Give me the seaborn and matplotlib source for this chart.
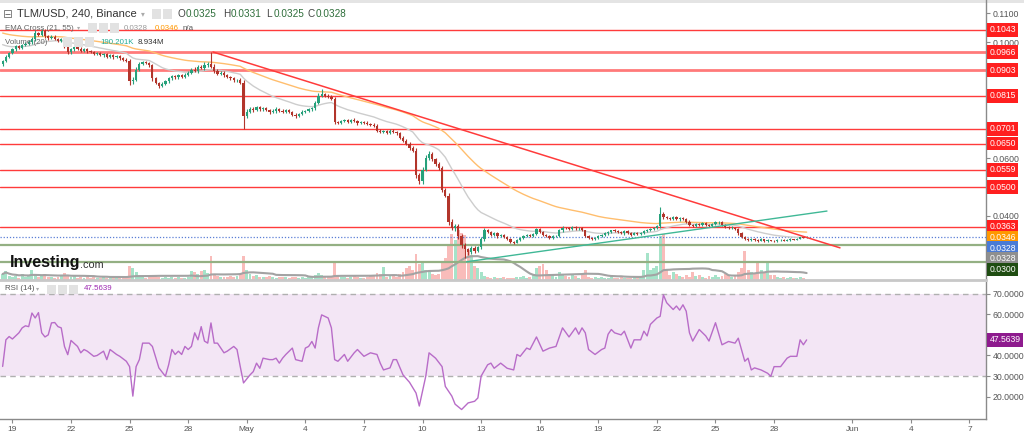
import numpy as np
import pandas as pd
import matplotlib
matplotlib.use("Agg")
import matplotlib.pyplot as plt
import matplotlib.dates as mdates
import matplotlib.transforms as mtrans
from matplotlib.patches import Rectangle
import seaborn as sns

# ---------------- data ----------------
first_time = "2021-04-18 12:00"
bar_hours = 4
first_open = 0.0925

close_rows = [
    [0.0935, 0.0950, 0.0962],                                   # Apr 18
    [0.0975, 0.0985, 0.0980, 0.0990, 0.0995, 0.1000],           # Apr 19
    [0.1010, 0.1030, 0.1025, 0.1038, 0.1020, 0.1015],
    [0.1018, 0.1012, 0.1005, 0.1010, 0.0985, 0.0965],
    [0.0975, 0.0982, 0.0978, 0.0970, 0.0975, 0.0968],
    [0.0965, 0.0960, 0.0962, 0.0955, 0.0958, 0.0950],
    [0.0955, 0.0948, 0.0952, 0.0945, 0.0940, 0.0935],
    [0.0865, 0.0870, 0.0905, 0.0925, 0.0930, 0.0928],           # Apr 25
    [0.0920, 0.0875, 0.0860, 0.0850, 0.0855, 0.0865],
    [0.0875, 0.0882, 0.0878, 0.0885, 0.0880, 0.0888],
    [0.0895, 0.0905, 0.0900, 0.0915, 0.0910, 0.0920],
    [0.0925, 0.0915, 0.0900, 0.0890, 0.0895, 0.0885],
    [0.0880, 0.0875, 0.0868, 0.0870, 0.0860, 0.0745],           # Apr 30
    [0.0760, 0.0770, 0.0765, 0.0775, 0.0768, 0.0772],           # May 1
    [0.0765, 0.0758, 0.0762, 0.0770, 0.0764, 0.0760],
    [0.0765, 0.0758, 0.0750, 0.0745, 0.0752, 0.0760],
    [0.0763, 0.0768, 0.0772, 0.0790, 0.0815, 0.0820],
    [0.0815, 0.0812, 0.0805, 0.0725, 0.0722, 0.0728],           # May 5
    [0.0730, 0.0725, 0.0732, 0.0728, 0.0720, 0.0724],
    [0.0722, 0.0718, 0.0715, 0.0712, 0.0695, 0.0690],
    [0.0692, 0.0688, 0.0695, 0.0690, 0.0685, 0.0670],
    [0.0660, 0.0650, 0.0635, 0.0625, 0.0540, 0.0520],
    [0.0560, 0.0600, 0.0615, 0.0595, 0.0580, 0.0565],           # May 10
    [0.0490, 0.0470, 0.0380, 0.0360, 0.0365, 0.0330],
    [0.0300, 0.0285, 0.0275, 0.0290, 0.0280, 0.0292],
    [0.0320, 0.0350, 0.0345, 0.0335, 0.0340, 0.0330],
    [0.0335, 0.0328, 0.0322, 0.0310, 0.0308, 0.0318],
    [0.0325, 0.0330, 0.0335, 0.0332, 0.0338, 0.0355],           # May 15
    [0.0345, 0.0335, 0.0330, 0.0325, 0.0330, 0.0332],
    [0.0350, 0.0360, 0.0358, 0.0355, 0.0362, 0.0357],
    [0.0358, 0.0350, 0.0330, 0.0325, 0.0320, 0.0325],
    [0.0330, 0.0335, 0.0340, 0.0345, 0.0350, 0.0348],
    [0.0345, 0.0340, 0.0348, 0.0342, 0.0336, 0.0340],           # May 20
    [0.0338, 0.0342, 0.0348, 0.0352, 0.0355, 0.0358],
    [0.0365, 0.0408, 0.0395, 0.0392, 0.0390, 0.0395],
    [0.0388, 0.0392, 0.0390, 0.0380, 0.0370, 0.0365],
    [0.0372, 0.0368, 0.0375, 0.0370, 0.0365, 0.0372],
    [0.0378, 0.0380, 0.0370, 0.0362, 0.0358, 0.0360],           # May 25
    [0.0355, 0.0340, 0.0328, 0.0320, 0.0318, 0.0322],
    [0.0318, 0.0315, 0.0320, 0.0312, 0.0316, 0.0314],
    [0.0312, 0.0316, 0.0318, 0.0315, 0.0317, 0.0320],
    [0.0318, 0.0322, 0.0326, 0.0325, 0.0328],                   # May 29
]

# upper / lower wick lengths, in units of 0.0001
wick_up_rows = [
    [5, 6, 4],
    [5, 4, 6, 4, 5, 6], [8, 12, 6, 7, 8, 5], [6, 5, 4, 6, 5, 4], [6, 5, 4, 5, 4, 5],
    [4, 5, 4, 5, 4, 4], [5, 4, 5, 4, 4, 5], [6, 8, 10, 6, 5, 6], [4, 6, 5, 4, 6, 5],
    [5, 4, 6, 4, 5, 6], [6, 5, 8, 6, 7, 10], [8, 41, 8, 6, 5, 4], [5, 4, 6, 4, 5, 8],
    [8, 6, 5, 6, 5, 4], [5, 4, 6, 5, 4, 5], [4, 5, 4, 5, 4, 5], [4, 5, 4, 6, 10, 18],
    [6, 5, 6, 5, 4, 5], [4, 5, 4, 5, 4, 4], [4, 5, 4, 5, 4, 5], [5, 4, 5, 4, 5, 4],
    [5, 6, 5, 6, 8, 10], [8, 12, 10, 6, 5, 6], [8, 6, 10, 8, 6, 8], [8, 6, 5, 6, 5, 6],
    [8, 8, 5, 4, 5, 4], [4, 3, 4, 3, 4, 3], [3, 4, 3, 4, 3, 4], [4, 3, 4, 3, 3, 4],
    [4, 5, 3, 4, 3, 4], [3, 4, 3, 3, 4, 3], [3, 4, 3, 4, 3, 4], [4, 3, 4, 3, 3, 4],
    [3, 4, 3, 4, 3, 4], [5, 23, 6, 4, 5, 4], [4, 5, 4, 4, 5, 3], [3, 4, 3, 4, 3, 4],
    [4, 3, 4, 3, 3, 4], [3, 4, 3, 3, 4, 3], [3, 2, 3, 2, 3, 2], [2, 3, 2, 3, 2, 3],
    [2, 3, 2, 3, 3],
]
wick_dn_rows = [
    [8, 5, 4],
    [4, 5, 4, 5, 4, 5], [5, 6, 5, 4, 5, 6], [4, 5, 6, 4, 6, 5], [5, 4, 5, 4, 5, 4],
    [4, 5, 4, 4, 5, 4], [4, 5, 4, 5, 4, 5], [12, 8, 5, 4, 5, 4], [5, 8, 6, 8, 5, 4],
    [5, 4, 5, 4, 5, 4], [4, 5, 4, 5, 4, 5], [5, 4, 6, 5, 4, 5], [4, 5, 4, 5, 4, 45],
    [6, 5, 6, 4, 5, 4], [4, 5, 4, 5, 4, 5], [5, 4, 5, 6, 4, 5], [4, 5, 4, 5, 4, 5],
    [5, 4, 6, 8, 5, 4], [5, 4, 5, 4, 6, 4], [4, 5, 4, 5, 6, 5], [5, 4, 5, 4, 5, 6],
    [6, 5, 6, 5, 8, 10], [8, 5, 6, 5, 6, 5], [8, 6, 10, 8, 12, 10], [10, 30, 8, 6, 8, 5],
    [6, 5, 4, 5, 4, 5], [4, 5, 4, 5, 4, 3], [4, 3, 4, 3, 4, 3], [4, 4, 3, 4, 3, 3],
    [3, 4, 3, 4, 3, 4], [4, 3, 4, 5, 4, 3], [3, 4, 3, 4, 3, 4], [4, 3, 4, 3, 4, 3],
    [3, 4, 3, 4, 3, 4], [4, 5, 4, 3, 4, 3], [3, 4, 3, 4, 5, 4], [4, 3, 4, 3, 4, 3],
    [3, 4, 3, 4, 3, 4], [3, 4, 5, 4, 6, 3], [3, 4, 3, 2, 3, 2], [2, 3, 2, 3, 2, 2],
    [2, 2, 3, 2, 0],
]

# volume, millions
volume_rows = [
    [12, 18, 8],
    [6, 8, 4, 12, 6, 8], [20, 10, 6, 8, 12, 6], [6, 4, 6, 10, 14, 10], [6, 8, 4, 6, 4, 6],
    [4, 6, 4, 4, 6, 4], [4, 4, 6, 4, 6, 8], [28, 24, 16, 8, 6, 4], [6, 10, 8, 6, 4, 6],
    [4, 6, 4, 6, 4, 4], [6, 18, 16, 12, 18, 20], [14, 48, 12, 8, 6, 6], [6, 8, 6, 8, 12, 48],
    [20, 12, 8, 10, 6, 6], [6, 8, 6, 4, 6, 6], [6, 4, 6, 6, 4, 6], [4, 6, 6, 10, 14, 10],
    [8, 6, 8, 34, 10, 6], [6, 4, 6, 8, 6, 4], [4, 6, 8, 10, 14, 12], [26, 6, 8, 10, 6, 12],
    [16, 24, 28, 20, 52, 32], [34, 20, 16, 12, 10, 12], [36, 44, 68, 92, 80, 100],
    [94, 90, 60, 50, 28, 24], [16, 8, 6, 4, 6, 4], [4, 6, 4, 4, 4, 6], [6, 8, 4, 6, 10, 24],
    [28, 32, 20, 12, 8, 6], [16, 10, 8, 6, 10, 8], [4, 12, 20, 6, 4, 6], [4, 6, 4, 4, 6, 4],
    [4, 6, 4, 4, 4, 6], [6, 8, 20, 54, 20, 24], [28, 88, 92, 20, 10, 16], [12, 8, 6, 10, 6, 16],
    [8, 10, 6, 4, 8, 6], [10, 6, 8, 12, 10, 6], [8, 16, 24, 58, 20, 16], [12, 38, 20, 16, 34, 10],
    [10, 6, 4, 6, 4, 6], [4, 4, 6, 4, 0.19],
]

# RSI(14): (bar index, value)
rsi_points = [
    (0, 34.7), (1, 47.6), (2, 49.2), (3, 48), (5, 51), (6, 53.4), (7, 54.4), (8, 54), (9, 60.6),
    (10, 58.2), (11, 60.8), (12, 51), (13, 49), (14, 50), (15, 55.8), (16, 56), (17, 54),
    (18, 53.4), (19, 44.4), (20, 40.4), (21, 47.3), (23, 44.4), (24, 41.3), (25, 42.9),
    (26, 42.1), (28, 39.6), (29, 40), (31, 42.1), (32, 38), (33, 42.9), (35, 40.5), (36, 39.6),
    (38, 37.2), (39, 34.6), (40, 20.3), (41, 34.6), (42, 38), (43, 46), (45, 46), (46, 44.4),
    (48, 34), (50, 29.9), (51, 35.5), (52, 42.9), (53, 40.5), (54, 42.1), (55, 40.5),
    (56, 44.4), (57, 42.9), (58, 44.4), (59, 51), (60, 47.6), (61, 54), (62, 47), (63, 46),
    (64, 55.8), (65, 46), (66, 46), (68, 41.3), (69, 42.1), (71, 44.4), (72, 42.9), (73, 34.6),
    (74, 26.7), (76, 30.6), (77, 32.2), (78, 36.3), (79, 33.8), (80, 38.7), (82, 38), (83, 38),
    (84, 38.7), (85, 36.3), (86, 38.7), (87, 40.5), (89, 43.6), (90, 38), (92, 37.2),
    (93, 43.6), (94, 44.4), (95, 46.8), (96, 43.6), (97, 53.4), (98, 59.7), (100, 58.2),
    (101, 53.4), (102, 38), (103, 37.2), (105, 40.5), (106, 37.2), (108, 41.3), (109, 42.9),
    (111, 39.6), (113, 41.3), (115, 40.5), (116, 36.3), (117, 33), (119, 34), (120, 38),
    (121, 38), (123, 30.6), (125, 27), (127, 21.8), (128, 15.5), (130, 30), (131, 41.3),
    (133, 38.7), (135, 34.6), (136, 25), (138, 20.3), (139, 16.4), (141, 13.8), (143, 17),
    (145, 17.8), (146, 19.4), (147, 30), (149, 35.5), (150, 36.3), (151, 33.8), (153, 36.3),
    (155, 33.8), (157, 33), (158, 40.5), (159, 39.6), (161, 43.6), (162, 42.9), (164, 49),
    (166, 42.1), (168, 43.6), (170, 44.4), (172, 53.4), (174, 49), (176, 53.4), (177, 50.3),
    (178, 53.4), (179, 51), (180, 42.9), (182, 40.5), (184, 42.9), (185, 43.6), (186, 50.3),
    (187, 52.6), (188, 51), (190, 50), (191, 51.8), (193, 43.6), (194, 47.6), (196, 47.6),
    (197, 51.8), (198, 49.5), (199, 55.1), (201, 58.2), (202, 59), (203, 69.4), (204, 65.6),
    (206, 62.3), (207, 64), (208, 62), (209, 64.6), (210, 61.5), (211, 51), (212, 47),
    (214, 52.6), (216, 49.5), (217, 47), (219, 55.9), (221, 45.2), (223, 46.8), (225, 46),
    (226, 48.4), (228, 37.2), (229, 38.7), (230, 33), (231, 34), (233, 33), (235, 31.4),
    (236, 29.9), (237, 34.6), (239, 34.6), (241, 38.7), (242, 39.6), (244, 39.6), (245, 47.6),
    (246, 45.2), (247, 47.5639),
]

ema21_seed = 0.0997
ema55_seed = 0.1035

red_levels = [0.1043, 0.0966, 0.0903, 0.0815, 0.0701, 0.0650, 0.0559, 0.0500, 0.0363]
thick_red_levels = [0.0966, 0.0903]
green_levels = [0.0300, 0.0242]
last_close = 0.0328
ema21_last = 0.0328
ema55_last = 0.0346
rsi_last = 47.5639

down_trend_t = ["2021-04-29 06:30", "2021-05-31 09:00"]
down_trend_p = [0.0966, 0.0290]
up_trend_t = ["2021-05-12 06:15", "2021-05-30 17:00"]
up_trend_p = [0.0242, 0.0417]

price_ticks = [0.04, 0.06, 0.10, 0.11]
rsi_ticks = [20, 30, 40, 60, 70]
x_tick_dates = ["2021-04-19", "2021-04-22", "2021-04-25", "2021-04-28", "2021-05-01",
                "2021-05-04", "2021-05-07", "2021-05-10", "2021-05-13", "2021-05-16",
                "2021-05-19", "2021-05-22", "2021-05-25", "2021-05-28", "2021-06-01",
                "2021-06-04", "2021-06-07"]
x_tick_labels = ["19", "22", "25", "28", "May", "4", "7", "10", "13", "16", "19", "22",
                 "25", "28", "Jun", "4", "7"]
x_range = ["2021-04-18 08:45", "2021-06-07 20:25"]

title_text = "TLM/USD, 240, Binance"
ohlc_letters = ["O", "H", "L", "C"]
ohlc_values = ["0.0325", "0.0331", "0.0325", "0.0328"]
volume_last = "190.201K"
volume_sma_last = "8.934M"

# ---------------- processing ----------------
closes = np.array([c for r in close_rows for c in r])
n = len(closes)
wu = np.array([w for r in wick_up_rows for w in r]) * 1e-4
wd = np.array([w for r in wick_dn_rows for w in r]) * 1e-4
vol = np.array([v for r in volume_rows for v in r], dtype=float)
assert len(wu) == n and len(wd) == n and len(vol) == n
opens = np.r_[first_open, closes[:-1]]
highs = np.maximum(opens, closes) + wu
lows = np.minimum(opens, closes) - wd
times = pd.date_range(first_time, periods=n, freq=f"{bar_hours}h")
t = mdates.date2num(times)


def ema(vals, span, seed):
    a = 2.0 / (span + 1)
    out, e = [], seed
    for v in vals:
        e = e + a * (v - e)
        out.append(e)
    return np.array(out)


ema21 = ema(closes, 21, ema21_seed)
ema55 = ema(closes, 55, ema55_seed)
vol_sma = pd.Series(vol).rolling(20, min_periods=1).mean().values
rsi_i = np.array([p[0] for p in rsi_points])
rsi_v = np.array([p[1] for p in rsi_points])

# ---------------- style ----------------
sns.set_theme(style="white")
plt.rcParams["font.family"] = ["Liberation Sans", "DejaVu Sans"]

UP, DN = "#26a17b", "#b2352b"
VUP, VDN = "#a6e3c9", "#f9bcba"
GRID_GREY = "#8a8a8a"

W, H = 1024, 433
fig = plt.figure(figsize=(W / 100, H / 100), dpi=100)
fig.patch.set_facecolor("white")


def fx(x):
    return x / W


def fy(y):
    return 1 - y / H


main_rect = [0, fy(280), fx(986), 280 / H]
rsi_rect = [0, fy(419), fx(986), (419 - 282) / H]

ax_v = fig.add_axes(main_rect)
ax = fig.add_axes(main_rect)
ax_r = fig.add_axes(rsi_rect)
ax_v.set_zorder(1)
ax.set_zorder(2)
ax.patch.set_visible(False)

xl = mdates.date2num(pd.to_datetime(x_range))
for a in (ax, ax_v, ax_r):
    a.set_xlim(*xl)

# volume
vcol = np.where(closes >= opens, VUP, VDN)
ax_v.bar(t, vol, width=0.15, color=vcol, linewidth=0)
sns.lineplot(x=t, y=vol_sma, ax=ax_v, color="#a3a3a3", linewidth=1.5, sort=False)
ax_v.set_ylim(0, 560)
ax_v.axis("off")

# horizontal levels
for lv in red_levels:
    thick = lv in thick_red_levels
    ax.axhline(lv, color="#ff7a7a" if thick else "#ff3b3b", lw=2.0 if thick else 1.0, zorder=2)
for lv in green_levels:
    ax.axhline(lv, color="#94b083", lw=1.6, zorder=2)
ax.axhline(last_close, color="#5b7fd6", lw=0.9, ls=(0, (1, 1.5)), zorder=2)

# EMAs
sns.lineplot(x=t, y=ema21, ax=ax, color="#cdcdcd", linewidth=1.0, sort=False, zorder=3)
sns.lineplot(x=t, y=ema55, ax=ax, color="#ffbe6e", linewidth=1.0, sort=False, zorder=3)

# candles
ccol = np.where(closes >= opens, UP, DN)
ax.vlines(t, lows, highs, colors=ccol, lw=0.8, zorder=4)
body = np.maximum(np.abs(closes - opens), 0.00012)
ax.bar(t, body, bottom=np.minimum(opens, closes), width=0.115, color=ccol, linewidth=0, zorder=5)

# trend lines
ax.plot(mdates.date2num(pd.to_datetime(down_trend_t)), down_trend_p, color="#ff3b3b", lw=1.1, zorder=6)
ax.plot(mdates.date2num(pd.to_datetime(up_trend_t)), up_trend_p, color="#3fb896", lw=1.0, zorder=6)

ax.set_ylim(0.0179, 0.11455)
ax.yaxis.tick_right()
ax.set_yticks(price_ticks)
ax.yaxis.set_major_formatter(matplotlib.ticker.FuncFormatter(lambda v, p: f"{v:.4f}"))
ax.tick_params(axis="y", labelsize=6.3, labelcolor="#555555", length=3, width=0.8,
               color=GRID_GREY, pad=2)
ax.tick_params(axis="x", bottom=False, labelbottom=False)
for s in ("top", "left"):
    ax.spines[s].set_visible(False)
ax.spines["right"].set_color(GRID_GREY)
ax.spines["right"].set_linewidth(1.0)
ax.spines["bottom"].set_color("#c8c8c8")
ax.spines["bottom"].set_linewidth(2.0)
ax.set_xlabel("")
ax.set_ylabel("")

# right-hand value boxes
trans = mtrans.blended_transform_factory(ax.transAxes, ax.transData)


def value_box(axis, tr, ypos, text, color):
    axis.text(1.0035, ypos, text, transform=tr, ha="left", va="center", fontsize=6.2,
              color="white", zorder=20, clip_on=False,
              bbox=dict(boxstyle="square,pad=0.28", fc=color, ec="none"))


boxes = [(lv, f"{lv:.4f}", "#ff1f1f") for lv in red_levels]
boxes += [(ema55_last, f"{ema55_last:.4f}", "#ff9800"),
          (last_close, f"{last_close:.4f}", "#4a7bd6"),
          (ema21_last, f"{ema21_last:.4f}", "#8f8f8f"),
          (green_levels[0], f"{green_levels[0]:.4f}", "#1f4d12")]
boxes.sort(key=lambda b: -b[0])
gap = 0.0037
prev = None
for val, txt, col in boxes:
    pos = val if prev is None else min(val, prev - gap)
    value_box(ax, trans, pos, txt, col)
    prev = pos

# RSI panel
ax_r.axhspan(30, 70, color="#f3e6f5", lw=0, zorder=0)
for lv in (30, 70):
    ax_r.axhline(lv, color="#b0b0b0", lw=1.0, ls=(0, (4, 3)), zorder=1)
sns.lineplot(x=t[rsi_i], y=rsi_v, ax=ax_r, color="#b86cc8", linewidth=1.0, sort=False, zorder=3)
ax_r.set_ylim(9.2, 75.65)
ax_r.yaxis.tick_right()
ax_r.set_yticks(rsi_ticks)
ax_r.yaxis.set_major_formatter(matplotlib.ticker.FuncFormatter(lambda v, p: f"{v:.4f}"))
ax_r.tick_params(axis="y", labelsize=6.3, labelcolor="#555555", length=3, width=0.8,
                 color=GRID_GREY, pad=2)
ax_r.set_xticks(mdates.date2num(pd.to_datetime(x_tick_dates)))
ax_r.set_xticklabels(x_tick_labels)
ax_r.tick_params(axis="x", labelsize=6.0, labelcolor="#555555", length=3, width=0.8,
                 color=GRID_GREY, pad=2, bottom=True)
for s in ("top", "left"):
    ax_r.spines[s].set_visible(False)
for s in ("right", "bottom"):
    ax_r.spines[s].set_color(GRID_GREY)
    ax_r.spines[s].set_linewidth(1.0)
ax_r.set_xlabel("")
ax_r.set_ylabel("")
value_box(ax_r, mtrans.blended_transform_factory(ax_r.transAxes, ax_r.transData),
          rsi_last, f"{rsi_last:.4f}", "#8e1b8e")

# top strip
fig.add_artist(Rectangle((0, fy(3)), 1, 3 / H, transform=fig.transFigure,
                         fc="#e4e4e4", ec="none", zorder=0))


def icon(x, y):
    fig.add_artist(Rectangle((fx(x), fy(y + 4.5)), 9 / W, 9 / H, transform=fig.transFigure,
                             fc="#e2e2e2", ec="none", zorder=30))


# legends / headers
fig.text(fx(3), fy(14), "\u229f", fontsize=8.5, color="#777777", va="center",
         family=["DejaVu Sans"], zorder=31)
fig.text(fx(17), fy(14), title_text, fontsize=8.0, color="#333333", va="center", zorder=31)
fig.text(fx(141), fy(14), "\u25be", fontsize=5.5, color="#aaaaaa", va="center",
         family=["DejaVu Sans"], zorder=31)
for xx in (152, 163):
    icon(xx, 14)
ohlc_x = [178, 223, 266, 308]
for xx, let, val in zip(ohlc_x, ohlc_letters, ohlc_values):
    fig.text(fx(xx), fy(14), let, fontsize=7.2, color="#444444", va="center", zorder=31)
    fig.text(fx(xx + 8), fy(14), val, fontsize=7.2, color="#2e6e3a", va="center", zorder=31)

SMALL = 5.7
fig.text(fx(5), fy(28), "EMA Cross (21, 55)", fontsize=SMALL, color="#666666", va="center", zorder=31)
fig.text(fx(77), fy(28), "\u25be", fontsize=4.5, color="#aaaaaa", va="center",
         family=["DejaVu Sans"], zorder=31)
for xx in (88, 99, 110):
    icon(xx, 28)
fig.text(fx(124), fy(28), f"{ema21_last:.4f}", fontsize=SMALL, color="#9a9a9a", va="center", zorder=31)
fig.text(fx(155), fy(28), f"{ema55_last:.4f}", fontsize=SMALL, color="#ff9800", va="center", zorder=31)
fig.text(fx(183), fy(28), "n/a", fontsize=SMALL, color="#555555", va="center", zorder=31)

fig.text(fx(5), fy(42), "Volume (20)", fontsize=SMALL, color="#666666", va="center", zorder=31)
for xx in (63, 74, 85):
    icon(xx, 42)
fig.text(fx(100), fy(42), volume_last, fontsize=SMALL, color="#22ab94", va="center", zorder=31)
fig.text(fx(138), fy(42), volume_sma_last, fontsize=SMALL, color="#333333", va="center", zorder=31)

fig.text(fx(5), fy(289), "RSI (14)", fontsize=SMALL, color="#555555", va="center", zorder=31)
fig.text(fx(36), fy(289), "\u25be", fontsize=4.5, color="#aaaaaa", va="center",
         family=["DejaVu Sans"], zorder=31)
for xx in (47, 58, 69):
    icon(xx, 289)
fig.text(fx(84), fy(289), f"{rsi_last:.4f}", fontsize=SMALL, color="#9c27b0", va="center", zorder=31)

# watermark
fig.text(fx(10), fy(263), "Investing", fontsize=11.5, fontweight="bold", color="#111111",
         va="center", zorder=31)
fig.text(fx(80), fy(264.5), ".com", fontsize=7.8, color="#333333", va="center", zorder=31)

fig.savefig("out.png", dpi=100, facecolor="white")
